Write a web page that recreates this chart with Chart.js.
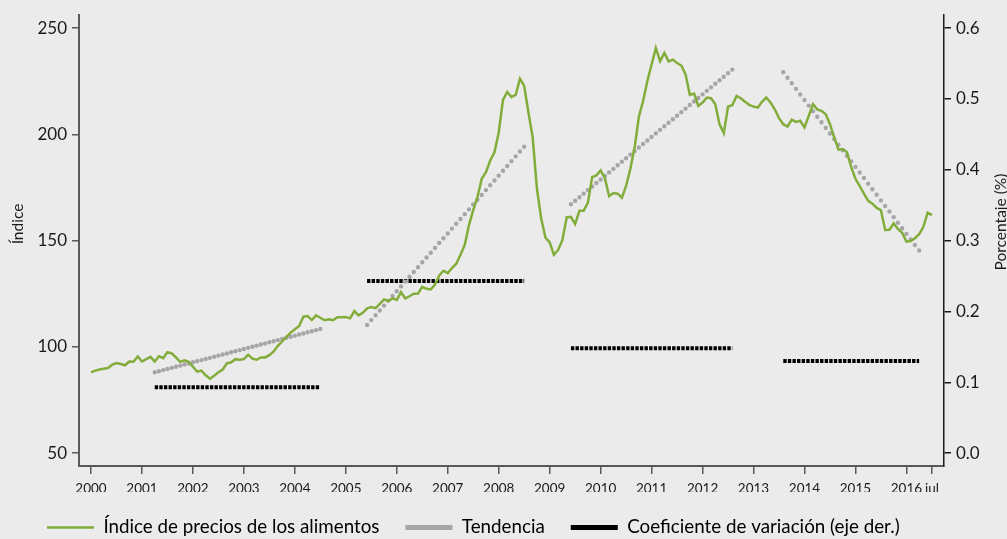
<!DOCTYPE html>
<html lang="es">
<head>
  <meta charset="UTF-8">
  <title>Índice de precios de los alimentos</title>

  <!-- Chart.js para dibujar el gráfico -->
  <script src="https://cdn.jsdelivr.net/npm/chart.js@4"></script>

  <style>
    body { margin: 0; background: #ebebeb; }
    #marco { width: 1007px; height: 539px; }
  </style>
</head>
<body>
  <div id="marco"><canvas id="grafico"></canvas></div>

<script>
// Índice de precios de los alimentos, mensual, de ene 2000 a jul 2016
const indice = [
  88.0, 88.8, 89.3, 89.7, 90.0, 91.6, 92.4, 91.9, 91.3, 93.1, 93.0, 95.5,      // 2000
  93.1, 94.2, 95.3, 93.1, 95.6, 94.7, 97.5, 96.9, 95.0, 92.9, 93.6, 92.9,      // 2001
  90.6, 88.3, 88.8, 86.6, 85.0, 86.4, 88.0, 89.3, 92.2, 92.7, 94.2, 93.9,      // 2002
  94.2, 96.3, 94.4, 93.9, 95.0, 95.0, 96.1, 97.8, 100.5, 102.5, 104.7, 106.7,  // 2003
  108.3, 109.8, 114.2, 114.5, 112.6, 114.8, 113.7, 112.5, 113.0, 112.5, 113.9, 113.9, // 2004
  114.0, 113.4, 116.8, 114.8, 116.0, 118.1, 118.7, 118.2, 120.2, 122.3, 121.6, 122.8, // 2005
  122.1, 125.7, 122.8, 123.8, 125.0, 125.1, 128.2, 127.3, 127.0, 129.3, 133.6, 135.8, // 2006
  134.7, 137.1, 139.1, 143.3, 148.0, 157.3, 164.3, 170.6, 179.1, 182.2, 187.7, 191.6, // 2007
  200.9, 216.2, 220.0, 217.6, 218.6, 226.2, 222.8, 210.3, 198.6, 174.4, 160.4, 151.4, // 2008
  149.2, 143.3, 145.6, 150.3, 160.9, 161.2, 157.8, 164.0, 164.0, 167.9, 179.9, 180.7, // 2009
  183.0, 179.4, 170.9, 172.4, 172.1, 170.2, 175.7, 183.8, 193.9, 208.3, 215.7, 225.1, // 2010
  232.9, 240.7, 234.4, 238.3, 234.4, 235.2, 233.6, 232.4, 228.2, 218.6, 219.2, 213.4, // 2011
  215.0, 217.3, 217.0, 214.2, 204.7, 200.6, 213.1, 213.7, 218.1, 217.0, 215.4, 213.9, // 2012
  213.1, 212.6, 215.3, 217.3, 215.0, 211.8, 207.6, 204.8, 203.7, 206.9, 205.9, 206.4, // 2013
  203.3, 208.7, 214.2, 211.8, 211.1, 209.5, 204.8, 198.6, 192.8, 193.1, 191.6, 184.6, // 2014
  179.1, 175.7, 172.1, 168.7, 167.4, 165.4, 164.3, 155.0, 155.1, 158.1, 155.5, 153.7, // 2015
  149.5, 149.8, 151.1, 153.0, 156.5, 163.2, 162.0                                      // 2016
];

// Etiquetas del eje X y mes (0 = ene 2000) donde va cada una
const etiquetasX = ['2000', '2001', '2002', '2003', '2004', '2005', '2006', '2007', '2008',
                    '2009', '2010', '2011', '2012', '2013', '2014', '2015', '2016', 'jul'];
const mesesX = [0, 12, 24, 36, 48, 60, 72, 84, 96, 108, 120, 132, 144, 156, 168, 180, 192, 198];

// Tramos de tendencia: mes de inicio y fin, valor del índice en cada extremo
const tendMesIni = [15, 65, 113, 163];
const tendMesFin = [54, 102, 151, 195];
const tendValIni = [88.0, 110.3, 167.1, 229.3];
const tendValFin = [108.4, 194.2, 230.5, 145.3];

// Coeficiente de variación de cada tramo (eje derecho)
const coefVar = [0.093, 0.243, 0.148, 0.130];

// Marcas de los ejes verticales
const ticksIzq = [50, 100, 150, 200, 250];
const ticksDer = [0, 0.1, 0.2, 0.3, 0.4, 0.5, 0.6];

const VERDE = '#82ad3b';
const GRIS = '#a6a6a6';
const FUENTE = 'Lato, "Open Sans", sans-serif';

// Serie principal como puntos {x: mes, y: valor}
const puntosIndice = indice.map((v, i) => ({ x: i, y: v }));

// Tramos separados por un punto nulo para que la línea se corte
const puntosTend = [];
const puntosCV = [];
for (let k = 0; k < tendMesIni.length; k++) {
  puntosTend.push({ x: tendMesIni[k], y: tendValIni[k] }, { x: tendMesFin[k], y: tendValFin[k] }, { x: tendMesFin[k] + 0.5, y: null });
  puntosCV.push({ x: tendMesIni[k], y: coefVar[k] }, { x: tendMesFin[k], y: coefVar[k] }, { x: tendMesFin[k] + 0.5, y: null });
}

// Un punto de tendencia por mes: el hueco del punteado depende del largo del tramo
function punteadoMensual(ctx) {
  const k = Math.floor(ctx.p0DataIndex / 3);
  const meses = tendMesFin[k] - tendMesIni[k];
  const largo = Math.hypot(ctx.p1.x - ctx.p0.x, ctx.p1.y - ctx.p0.y);
  return [0, largo / meses - 0.001];
}

// Títulos de los ejes verticales
const titulosEjes = {
  id: 'titulosEjes',
  afterDraw(chart) {
    const c = chart.ctx;
    c.save();
    c.fillStyle = '#1a1a1a';
    c.font = '15.5px ' + FUENTE;
    c.textAlign = 'center';
    c.textBaseline = 'middle';
    [['Índice', 18, 224], ['Porcentaje (%)', 1001, 222]].forEach(([txt, x, y]) => {
      c.save();
      c.translate(x, y);
      c.rotate(-Math.PI / 2);
      c.fillText(txt, 0, 0);
      c.restore();
    });
    c.restore();
  }
};

const grosorLeyenda = [2.5, 5, 5];

new Chart(document.getElementById('grafico'), {
  type: 'line',
  data: {
    datasets: [
      {
        label: 'Índice de precios de los alimentos',
        data: puntosIndice,
        borderColor: VERDE,
        borderWidth: 2.5,
        pointRadius: 0,
        pointStyle: 'line',
        yAxisID: 'y'
      },
      {
        label: 'Tendencia',
        data: puntosTend,
        borderColor: GRIS,
        borderWidth: 4.4,
        borderCapStyle: 'round',
        segment: { borderDash: punteadoMensual },
        pointRadius: 0,
        pointStyle: 'line',
        yAxisID: 'y'
      },
      {
        label: 'Coeficiente de variación (eje der.)',
        data: puntosCV,
        borderColor: '#000',
        borderWidth: 4,
        borderDash: [3.4, 1.2],
        pointRadius: 0,
        pointStyle: 'line',
        yAxisID: 'yDer'
      }
    ]
  },
  options: {
    responsive: true,
    maintainAspectRatio: false,
    animation: false,
    layout: { padding: { left: 21, right: 0, top: 12, bottom: 0 } },
    plugins: {
      tooltip: { enabled: false },
      legend: {
        position: 'bottom',
        align: 'start',
        maxHeight: 47,
        labels: {
          usePointStyle: true,
          pointStyleWidth: 47,
          padding: 26,
          color: '#000',
          font: { family: FUENTE, size: 18.8 },
          generateLabels(chart) {
            const items = Chart.defaults.plugins.legend.labels.generateLabels(chart);
            items.forEach((it, i) => {
              it.lineDash = [];
              it.lineCap = 'butt';
              it.lineWidth = grosorLeyenda[i];
              it.pointStyle = 'line';
            });
            return items;
          }
        }
      }
    },
    scales: {
      x: {
        type: 'linear',
        min: -2.83,
        max: 200.85,
        afterBuildTicks: s => { s.ticks = mesesX.map(v => ({ value: v })); },
        afterFit: s => { s.height = 26; },
        ticks: {
          autoSkip: false,
          maxRotation: 0,
          padding: 7,
          color: '#1a1a1a',
          font: { family: FUENTE, size: 13.5 },
          callback: (v, i) => etiquetasX[i]
        },
        grid: { drawOnChartArea: false, tickLength: 8, color: '#595959', lineWidth: 1.5 },
        border: { color: '#595959', width: 2 }
      },
      y: {
        position: 'left',
        min: 43.9,
        max: 256.1,
        afterBuildTicks: s => { s.ticks = ticksIzq.map(v => ({ value: v })); },
        afterFit: s => { s.width = 58; },
        ticks: {
          padding: 5,
          color: '#1a1a1a',
          font: { family: FUENTE, size: 17 }
        },
        grid: { drawOnChartArea: false, tickLength: 7, color: '#595959', lineWidth: 1.5 },
        border: { color: '#595959', width: 2 }
      },
      yDer: {
        position: 'right',
        min: -0.0182,
        max: 0.6182,
        afterBuildTicks: s => { s.ticks = ticksDer.map(v => ({ value: v })); },
        afterFit: s => { s.width = 63; },
        ticks: {
          padding: 5,
          color: '#1a1a1a',
          font: { family: FUENTE, size: 17 },
          callback: v => v.toFixed(1)
        },
        grid: { drawOnChartArea: false, tickLength: 7, color: '#1a1a1a', lineWidth: 1.5 },
        border: { color: '#1a1a1a', width: 1.5 }
      }
    }
  },
  plugins: [titulosEjes]
});
</script>
</body>
</html>
